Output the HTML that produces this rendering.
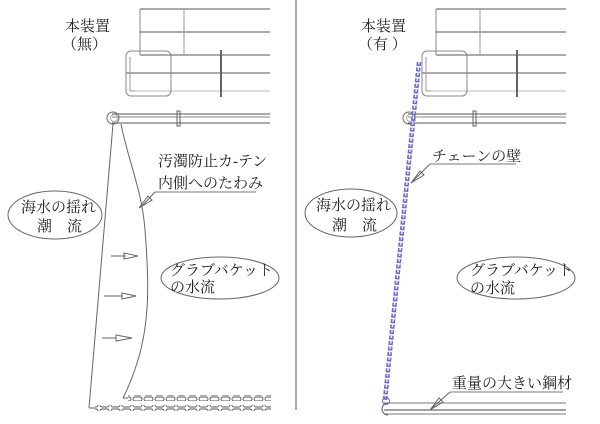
<!DOCTYPE html>
<html><head><meta charset="utf-8"><style>
html,body{margin:0;padding:0;background:#fff;}
svg{display:block;}
text{font-family:"Liberation Serif","Noto Serif CJK SC",serif;font-size:15px;fill:#222;}
</style></head><body>
<svg width="600" height="424" viewBox="0 0 600 424" xmlns="http://www.w3.org/2000/svg">
<defs>
<g id="struct" fill="none">
  <line x1="140" y1="9" x2="270" y2="9" stroke="#555"/>
  <line x1="140" y1="32" x2="270" y2="32" stroke="#555"/>
  <line x1="140" y1="55" x2="270" y2="55" stroke="#555"/>
  <line x1="126" y1="73" x2="270" y2="73" stroke="#555"/>
  <line x1="130" y1="91" x2="270" y2="91" stroke="#bbb"/>
  <line x1="140" y1="9" x2="140" y2="55" stroke="#888"/>
  <line x1="184" y1="9" x2="184" y2="55" stroke="#999"/>
  <rect x="126" y="51" width="45" height="45" rx="5" stroke="#888"/>
  <path d="M130 57 V91 H135" stroke="#999"/>
  <line x1="221" y1="50" x2="221" y2="97" stroke="#666" stroke-width="2"/>
  <line x1="112" y1="114" x2="270" y2="114" stroke="#555"/>
  <line x1="112" y1="117" x2="270" y2="117" stroke="#888"/>
  <line x1="112" y1="123" x2="270" y2="123" stroke="#555"/>
  <circle cx="113" cy="118" r="6" stroke="#666"/>
  <circle cx="114" cy="118" r="3.5" stroke="#aaa"/>
  <rect x="177" y="111" width="3" height="15" stroke="#666"/>
</g>
<pattern id="chainH" width="11" height="6" patternUnits="userSpaceOnUse">
  <rect x="1" y="1" width="9" height="4" rx="2" fill="none" stroke="#555" stroke-width="0.9"/>
</pattern>
</defs>

<line x1="296" y1="0" x2="296" y2="410" stroke="#555"/>

<!-- LEFT -->
<use href="#struct"/>
<text x="65" y="31">本装置</text>
<text x="62" y="49">（無）</text>
<path d="M113 124 L89 408" stroke="#666" fill="none"/>
<path d="M121 124 C128 160 142 190 145 230 C149 280 150 320 138 360 C132 380 126 392 123 398" stroke="#666" fill="none"/>
<path d="M89 408 H95" stroke="#666"/>
<path d="M123 398 H128" stroke="#666"/>
<rect x="95" y="405" width="176" height="6" fill="url(#chainH)"/>
<rect x="128" y="395" width="143" height="6" fill="url(#chainH)"/>
<g stroke="#666" fill="none">
  <line x1="111" y1="256" x2="126" y2="256"/><path d="M124 253 L138 256 L124 259 Z"/>
  <line x1="104" y1="296" x2="122" y2="296"/><path d="M122 293 L136 296 L122 299 Z"/>
  <line x1="102" y1="338" x2="116" y2="338"/><path d="M116 335 L132 338 L116 341 Z"/>
</g>
<ellipse cx="55" cy="215" rx="47" ry="24" fill="none" stroke="#666"/>
<text x="21" y="212">海水の揺れ</text>
<text x="37" y="231">潮　流</text>
<ellipse cx="220" cy="278" rx="59" ry="21" fill="none" stroke="#666"/>
<text x="170" y="275">グラブバケット</text>
<text x="170" y="292">の水流</text>
<text x="158" y="166">汚濁防止カ-テン</text>
<text x="158" y="188">内側へのたわみ</text>
<line x1="155" y1="192" x2="256" y2="192" stroke="#777"/>
<path d="M155 192 L141 207 M139 208 L148 196 L152 200 Z" stroke="#666" fill="none"/>

<!-- RIGHT -->
<use href="#struct" x="296"/>
<text x="361" y="31">本装置</text>
<text x="358" y="49">（有 ）</text>
<line x1="419" y1="62" x2="385" y2="400" stroke="#6b6bd0" stroke-width="4.5" stroke-dasharray="4 1.5"/>
<line x1="419" y1="62" x2="385" y2="400" stroke="#e8e8f8" stroke-width="1.5" stroke-dasharray="2.5 3"/>
<ellipse cx="351" cy="213" rx="46" ry="24" fill="none" stroke="#666"/>
<text x="316" y="210">海水の揺れ</text>
<text x="332" y="230">潮　流</text>
<ellipse cx="516" cy="278" rx="59" ry="21" fill="none" stroke="#666"/>
<text x="470" y="275">グラブバケット</text>
<text x="470" y="293">の水流</text>
<text x="432" y="161">チェーンの壁</text>
<line x1="430" y1="164" x2="516" y2="164" stroke="#777"/>
<path d="M430 164 L412 182 M411 183 L420 171 L424 175 Z" stroke="#666" fill="none"/>
<g fill="none">
  <line x1="384" y1="403" x2="566" y2="403" stroke="#777"/>
  <line x1="384" y1="410" x2="566" y2="410" stroke="#444"/>
  <line x1="384" y1="414" x2="566" y2="414" stroke="#777"/>
  <path d="M388 403 A6 6 0 1 0 388 415" stroke="#555"/>
  <circle cx="386" cy="401" r="3.5" stroke="#6b6bd0"/>
</g>
<text x="452" y="388">重量の大きい鋼材</text>
<line x1="450" y1="392" x2="563" y2="392" stroke="#777"/>
<path d="M450 392 L431 409 M430 410 L439 398 L443 402 Z" stroke="#666" fill="none"/>
</svg>
</body></html>
